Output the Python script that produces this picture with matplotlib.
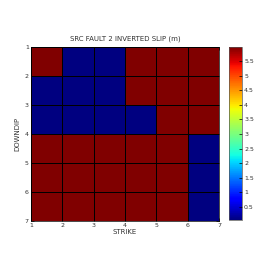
import numpy as np
import matplotlib
matplotlib.use("Agg")
import matplotlib.pyplot as plt

strike_edges = [1, 2, 3, 4, 5, 6, 7]
downdip_edges = [1, 2, 3, 4, 5, 6, 7]
slip_min = 0.05
slip_max = 5.98
slip = [
    [5.98, 0.05, 0.05, 5.98, 5.98, 5.98],
    [0.05, 0.05, 0.05, 5.98, 5.98, 5.98],
    [0.05, 0.05, 0.05, 0.05, 5.98, 5.98],
    [5.98, 5.98, 5.98, 5.98, 5.98, 0.05],
    [5.98, 5.98, 5.98, 5.98, 5.98, 0.05],
    [5.98, 5.98, 5.98, 5.98, 5.98, 0.05],
]
cbar_ticks = [0.5, 1, 1.5, 2, 2.5, 3, 3.5, 4, 4.5, 5, 5.5]

fig = plt.figure(figsize=(2.74, 2.74), dpi=100)
ax = fig.add_axes([31/274, 1 - 221/274, 188/274, 174/274])
cax = fig.add_axes([229/274, 1 - 220/274, 13/274, 173/274])

mesh = ax.pcolormesh(strike_edges, downdip_edges, np.array(slip), cmap='jet',
                     vmin=slip_min, vmax=slip_max, edgecolors='black', linewidth=0.5)
ax.set_xlim(1, 7)
ax.set_ylim(7, 1)
ax.set_xticks(strike_edges)
ax.set_yticks(downdip_edges)
ax.tick_params(direction='in', length=2, width=0.5, labelsize=4.5, pad=1.5,
               top=True, right=True, labelcolor='#333333')
for s in ax.spines.values():
    s.set_linewidth(0.5)
ax.set_xlabel('STRIKE', fontsize=5, labelpad=1, color='#333333')
ax.set_ylabel('DOWNDIP', fontsize=5, labelpad=3, color='#333333')
ax.set_title('SRC FAULT 2 INVERTED SLIP (m)', fontsize=5, pad=5, color='#333333')

cb = fig.colorbar(mesh, cax=cax, ticks=cbar_ticks)
cb.ax.set_yticklabels(['0.5', '1', '1.5', '2', '2.5', '3', '3.5', '4', '4.5', '5', '5.5'])
cb.ax.tick_params(direction='in', length=2, width=0.5, labelsize=4.5, pad=1.5,
                  labelcolor='#333333')
cb.outline.set_linewidth(0.5)
cb.outline.set_edgecolor('#555555')

fig.savefig('out.png', dpi=100, facecolor='white')
